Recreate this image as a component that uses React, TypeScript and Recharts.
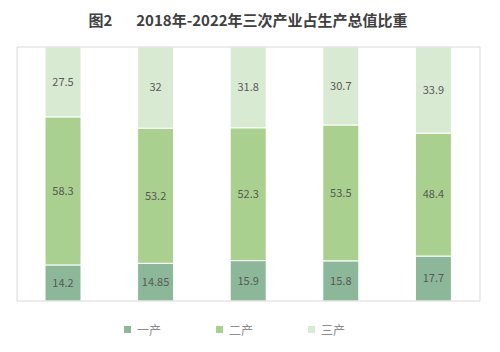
import React from "react";
import { BarChart, Bar, XAxis, YAxis, LabelList } from "recharts";

const YEARS = ["2018", "2019", "2020", "2021", "2022"];
const PRIMARY = [14.2, 14.85, 15.9, 15.8, 17.7];
const SECONDARY = [58.3, 53.2, 52.3, 53.5, 48.4];
const TERTIARY = [27.5, 32, 31.8, 30.7, 33.9];

const SERIES = [
  { key: "p", name: "一产", color: "#8cb799" },
  { key: "s", name: "二产", color: "#a9d08e" },
  { key: "t", name: "三产", color: "#d9ead3" },
];

const data = YEARS.map((year, i) => ({
  year,
  p: PRIMARY[i],
  s: SECONDARY[i],
  t: TERTIARY[i],
}));

const FONT = '"Noto Sans CJK SC", "Microsoft YaHei", sans-serif';
const FRAME = "#d9d9d9";

const LegendRow: React.FC = () => (
  <div
    style={{
      position: "absolute",
      top: 321,
      left: 124,
      display: "flex",
      fontFamily: FONT,
      fontSize: 12,
      color: "#8c8c8c",
    }}
  >
    {SERIES.map((s) => (
      <div key={s.key} style={{ display: "flex", alignItems: "center", width: 92 }}>
        <span style={{ width: 7, height: 7, background: s.color, marginRight: 6 }} />
        <span>{s.name}</span>
      </div>
    ))}
  </div>
);

export default function App() {
  return (
    <div
      style={{
        position: "fixed",
        top: 0,
        left: 0,
        width: 500,
        height: 352,
        background: "#fff",
        fontFamily: FONT,
      }}
    >
      <div
        style={{
          position: "absolute",
          top: 9,
          width: 496,
          textAlign: "center",
          fontSize: 15,
          fontWeight: 700,
          color: "#404040",
        }}
      >
        <span style={{ marginRight: 24 }}>图2</span>
        <span>2018年-2022年三次产业占生产总值比重</span>
      </div>
      <BarChart
        width={500}
        height={352}
        data={data}
        margin={{ top: 46, right: 19, left: 16, bottom: 50 }}
        barSize={36}
      >
        <XAxis dataKey="year" tick={false} tickLine={false} axisLine={{ stroke: FRAME }} height={1} />
        <XAxis xAxisId="top" dataKey="year" orientation="top" tick={false} tickLine={false} axisLine={{ stroke: FRAME }} height={1} />
        <YAxis domain={[0, 100]} allowDataOverflow tick={false} tickLine={false} axisLine={{ stroke: FRAME }} width={1} />
        <YAxis yAxisId="right" orientation="right" domain={[0, 100]} tick={false} tickLine={false} axisLine={{ stroke: FRAME }} width={1} />
        {SERIES.map((s) => (
          <Bar
            key={s.key}
            dataKey={s.key}
            name={s.name}
            stackId="a"
            fill={s.color}
            stroke="#ffffff"
            strokeWidth={1}
            isAnimationActive={false}
          >
            <LabelList dataKey={s.key} position="center" fill="#595959" fontSize={11} fontFamily={FONT} />
          </Bar>
        ))}
      </BarChart>
      <LegendRow />
    </div>
  );
}
